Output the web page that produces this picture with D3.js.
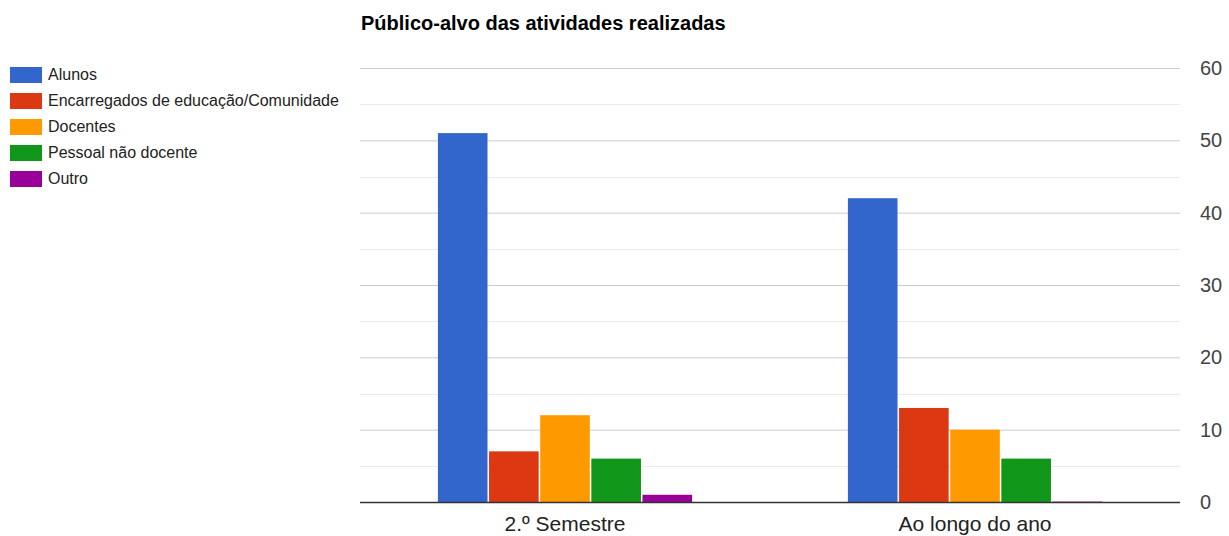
<!DOCTYPE html>
<html>
<head>
<meta charset="utf-8">
<script src="https://cdn.jsdelivr.net/npm/d3@7"></script>
<style>
  body { margin: 0; background: #fff; }
  svg text { font-family: "Liberation Sans", Arial, sans-serif; }
</style>
</head>
<body>
<svg id="chart" width="1229" height="536"></svg>
<script>
"use strict";

const title = "Público-alvo das atividades realizadas";
const categories = ["2.º Semestre", "Ao longo do ano"];
const series = ["Alunos", "Encarregados de educação/Comunidade", "Docentes", "Pessoal não docente", "Outro"];
const colors = ["#3366cc", "#dc3912", "#ff9900", "#109618", "#990099"];
const alunos = [51, 42];
const encarregados = [7, 13];
const docentes = [12, 10];
const pessoal = [6, 6];
const outro = [1, 0];
const yTicks = [0, 10, 20, 30, 40, 50, 60];

const values = [alunos, encarregados, docentes, pessoal, outro];

const svg = d3.select("#chart");
const plotLeft = 360, plotRight = 1180, plotTop = 68, plotBottom = 502;

let x0 = d3.scaleBand()
  .domain(categories)
  .range([plotLeft, plotRight]);

let groupW = x0.bandwidth() * 0.62;
let x1 = d3.scaleBand()
  .domain(series)
  .range([0, groupW])
  .paddingInner(0.03);

let y = d3.scaleLinear()
  .domain([0, 60])
  .range([plotBottom, plotTop]);

// minor gridlines
svg.append("g")
  .selectAll("line")
  .data(d3.range(5, 60, 10))
  .join("line")
  .attr("x1", plotLeft).attr("x2", plotRight)
  .attr("y1", d => Math.round(y(d)) + 0.5)
  .attr("y2", d => Math.round(y(d)) + 0.5)
  .attr("stroke", "#ebebeb");

// major gridlines + labels
let yAxis = svg.append("g")
  .attr("transform", "translate(" + plotRight + ",0)")
  .call(d3.axisRight(y).tickValues(yTicks).tickSize(-(plotRight - plotLeft)).tickPadding(20));
yAxis.select(".domain").remove();
yAxis.selectAll(".tick line").attr("stroke", "#cccccc");
yAxis.selectAll(".tick text")
  .attr("font-size", 20)
  .attr("fill", "#444")
  .attr("font-family", "Liberation Sans, Arial, sans-serif");

// bars
categories.forEach(function(cat, ci) {
  let g = svg.append("g")
    .attr("transform", "translate(" + (x0(cat) + (x0.bandwidth() - groupW) / 2) + ",0)");
  g.selectAll("rect")
    .data(series.map((s, si) => ({ s: s, v: values[si][ci], c: colors[si] })))
    .join("rect")
    .attr("x", d => x1(d.s))
    .attr("width", x1.bandwidth())
    .attr("y", d => d.v > 0 ? y(d.v) : y(0) - 1)
    .attr("height", d => d.v > 0 ? y(0) - y(d.v) : 1)
    .attr("fill", d => d.c)
    .attr("opacity", d => d.v > 0 ? 1 : 0.4);
});

// baseline
svg.append("line")
  .attr("x1", plotLeft).attr("x2", plotRight)
  .attr("y1", y(0) + 0.5).attr("y2", y(0) + 0.5)
  .attr("stroke", "#333").attr("stroke-width", 1.5);

// x labels
svg.append("g")
  .selectAll("text")
  .data(categories)
  .join("text")
  .attr("x", d => x0(d) + x0.bandwidth() / 2)
  .attr("y", 531)
  .attr("text-anchor", "middle")
  .attr("font-size", 21)
  .attr("fill", "#222")
  .text(d => d);

// title
svg.append("text")
  .attr("x", 361)
  .attr("y", 30)
  .attr("font-size", 20)
  .attr("font-weight", "bold")
  .attr("fill", "#000")
  .text(title);

// legend
let legend = svg.append("g")
  .selectAll("g")
  .data(series)
  .join("g")
  .attr("transform", (d, i) => "translate(10," + (67 + i * 26) + ")");
legend.append("rect")
  .attr("width", 32).attr("height", 16)
  .attr("fill", (d, i) => colors[i]);
legend.append("text")
  .attr("x", 38)
  .attr("y", 13)
  .attr("font-size", 16)
  .attr("fill", "#222")
  .text(d => d);
</script>
</body>
</html>
